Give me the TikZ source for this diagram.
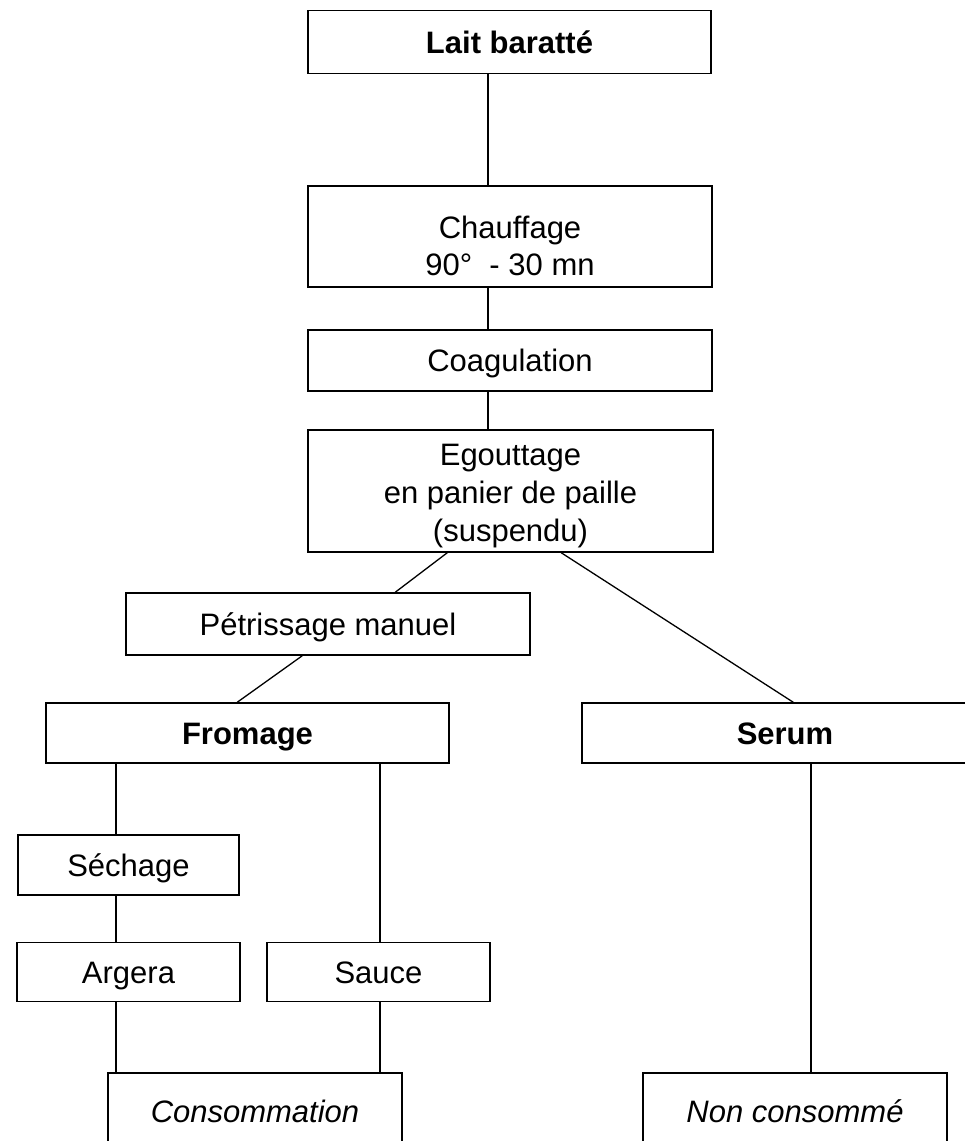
\documentclass[tikz,border=0pt]{standalone}
\usepackage{fontspec}
\setmainfont{Liberation Sans}
\usetikzlibrary{calc}
\begin{document}
\begin{tikzpicture}[x=1pt,y=-1pt,
  txt/.style={inner sep=0pt, align=center, font=\fontsize{31}{37}\selectfont},
  box/.style={txt, draw, line width=1.5pt},
  one/.style={text height=22pt, text depth=0pt},
  link/.style={line width=1.3pt}]
\useasboundingbox (0,0) rectangle (965,1141);
\clip (0,0) rectangle (965,1141);
% boxes
\node[box, one, minimum width=403pt, minimum height=63pt] (lait) at (509.5,42) {\textbf{Lait baratté}};
\node[box, minimum width=404pt, minimum height=101pt] (chauf) at (510,236.5) {};
\node[txt] (chauftxt) at (510,246) {Chauffage\\90°\ \ - 30 mn};
\node[box, one, minimum width=404pt, minimum height=61pt] (coag) at (510,360.5) {Coagulation};
\node[box, minimum width=405pt, minimum height=122pt] (egout) at (510.5,491) {};
\node[txt, font=\fontsize{31}{38}\selectfont] (egouttxt) at (510.5,496) {Egouttage\\en panier de paille\\(suspendu)};
\node[box, one, minimum width=404pt, minimum height=62pt] (petr) at (328,624) {Pétrissage manuel};
\node[box, one, minimum width=403pt, minimum height=60pt] (from) at (247.5,733) {\textbf{Fromage}};
\node[box, one, minimum width=406pt, minimum height=60pt] (serum) at (785,733) {\textbf{Serum}};
\node[box, one, minimum width=221pt, minimum height=60pt] (sech) at (128.5,865) {Séchage};
\node[box, one, minimum width=223pt, minimum height=59pt] (arg) at (128.5,972) {Argera};
\node[box, one, minimum width=223pt, minimum height=59pt] (sauce) at (378.5,972) {Sauce};
\node[box, one, minimum width=294pt, minimum height=76pt] (conso) at (255,1111) {\itshape Consommation};
\node[box, one, minimum width=304pt, minimum height=76pt] (nonc) at (795,1111) {\itshape Non consommé};
% connector columns
\coordinate (c0) at (488,0);
\coordinate (cA) at (116,0);
\coordinate (cB) at (380,0);
\coordinate (cC) at (811,0);
% connectors
\draw[link] (lait.south -| c0) -- (chauf.north -| c0);
\draw[link] (chauf.south -| c0) -- (coag.north -| c0);
\draw[link] (coag.south -| c0) -- (egout.north -| c0);
\draw[link] ($(egout.south west)+(140,0)$) -- ($(petr.north west)+(270,0)$);
\draw[link] ($(egout.south west)+(254,0)$) -- ($(serum.north west)+(212,0)$);
\draw[link] ($(petr.south west)+(177,0)$) -- ($(from.north west)+(192,0)$);
\draw[link] (from.south -| cA) -- (sech.north -| cA);
\draw[link] (sech.south -| cA) -- (arg.north -| cA);
\draw[link] (arg.south -| cA) -- (conso.north -| cA);
\draw[link] (from.south -| cB) -- (sauce.north -| cB);
\draw[link] (sauce.south -| cB) -- (conso.north -| cB);
\draw[link] (serum.south -| cC) -- (nonc.north -| cC);
\end{tikzpicture}
\end{document}
